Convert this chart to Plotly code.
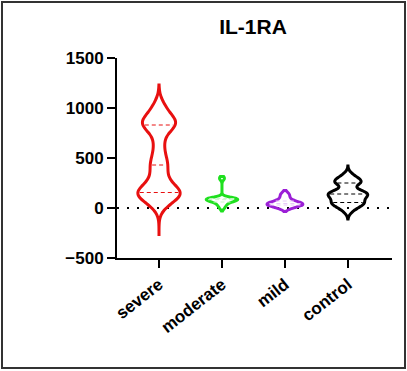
import numpy as np
import plotly.graph_objects as go

# ---- data ----
categories = ["severe", "moderate", "mild", "control"]
severe = [20, 60, 95, 120, 135, 145, 150, 155, 170, 195, 230, 270, 320, 380,
          430, 460, 520, 600, 680, 770, 810, 830, 840, 855, 870, 890, 930,
          980, 1040]
moderate = [-5, 15, 30, 42, 52, 60, 66, 72, 76, 80, 83, 86, 88, 90, 92, 94,
            96, 98, 100, 290, 305]
mild = [-5, 5, 15, 20, 25, 30, 32, 35, 38, 40, 45, 48, 50, 55, 60, 70, 85,
        100, 120, 135, 150]
control = [-30, 10, 30, 42, 50, 55, 80, 100, 115, 125, 140, 145, 150, 160, 175,
           250, 255, 260, 270, 300, 330]
series = [severe, moderate, mild, control]

colors = ["#e81010", "#1fe01f", "#9b1fd6", "#000000"]
dash_colors = ["#e81010", "#c8f5c8", "#e8c8f8", "#000000"]
bandwidths = [75, 18, 22, 35]
spans = [[-280, 1230], [-30, 315], [-35, 175], [-110, 420]]
widths = [0.67, 0.5, 0.57, 0.63]
y_ticks = [-500, 0, 500, 1000, 1500]


def kde(vals, bw):
    vals = np.asarray(vals, float)
    n = len(vals)

    def f(x):
        z = (np.asarray(x, float)[..., None] - vals) / bw
        return np.exp(-0.5 * z * z).sum(-1) / (n * bw * np.sqrt(2 * np.pi))
    return f


fig = go.Figure()

for i, (name, vals) in enumerate(zip(categories, series)):
    fig.add_trace(go.Violin(
        y=vals, x0=i, name=name, orientation="v",
        line=dict(color=colors[i], width=3),
        fillcolor="rgba(0,0,0,0)",
        points=False, box_visible=False, meanline_visible=False,
        bandwidth=bandwidths[i], spanmode="manual", span=spans[i],
        width=widths[i], scalemode="width", hoverinfo="skip",
        showlegend=False,
    ))
    # quartile dashed lines
    f = kde(vals, bandwidths[i])
    s0, s1 = spans[i]
    nstep = int(np.ceil((s1 - s0) / (bandwidths[i] / 3)))
    grid = np.linspace(s0, s1, nstep + 1)
    maxk = f(grid).max()
    for q in np.percentile(vals, [25, 50, 75]):
        hw = widths[i] / 2 * f(q) / maxk - 0.03
        if hw <= 0:
            continue
        fig.add_trace(go.Scatter(
            x=[i - hw, i + hw], y=[q, q], mode="lines",
            line=dict(color=dash_colors[i], width=1, dash="4px,3px"),
            hoverinfo="skip", showlegend=False,
        ))

W, H = 407, 371
L, R, T, B = 117, 15, 58, 113
pw, ph = W - L - R, H - T - B

fig.update_layout(
    width=W, height=H,
    margin=dict(l=L, r=R, t=T, b=B, pad=0),
    paper_bgcolor="white", plot_bgcolor="white",
    violinmode="overlay",
    font=dict(family="Liberation Sans, Arial, sans-serif", color="black"),
    title=dict(text="IL-1RA", xref="container", x=253 / W, xanchor="center",
               y=1 - 27 / H, yanchor="middle",
               font=dict(size=21, weight="bold", color="black")),
    xaxis=dict(range=[-0.667, 3.7], tickmode="array",
               tickvals=list(range(len(categories))), ticktext=categories,
               tickangle=-38, showline=True, linewidth=2, linecolor="black",
               ticks="outside", ticklen=8, tickwidth=2, tickcolor="black",
               showgrid=False, zeroline=False,
               tickfont=dict(size=17, weight="bold", color="black")),
    yaxis=dict(range=[-500, 1500], tickmode="array", tickvals=y_ticks,
               showline=True, linewidth=2, linecolor="black",
               ticks="outside", ticklen=8, tickwidth=2, tickcolor="black",
               showgrid=False, zeroline=False,
               tickfont=dict(size=17, weight="bold", color="black")),
    shapes=[
        dict(type="line", xref="x", yref="y", x0=-0.667, x1=3.7, y0=0, y1=0,
             line=dict(color="black", width=2, dash="2px,8px"), layer="below"),
        dict(type="rect", xref="paper", yref="paper",
             x0=(2 - L) / pw, x1=(405 - L) / pw,
             y0=(H - B - 368) / ph, y1=(H - B - 2) / ph,
             line=dict(color="#333333", width=2), layer="above"),
    ],
)

fig.write_html("out.html", config={"displayModeBar": False},
               post_script="document.body.style.margin='0';"
                           "document.body.style.overflow='hidden';")
